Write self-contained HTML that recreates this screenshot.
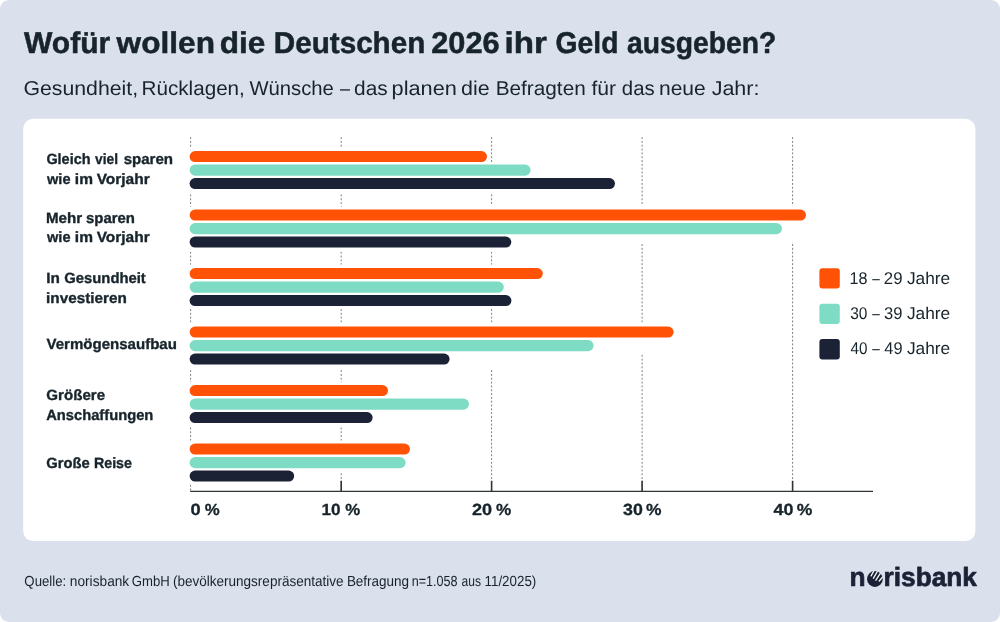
<!DOCTYPE html>
<html lang="de"><head><meta charset="utf-8"><title>Wofür wollen die Deutschen 2026 ihr Geld ausgeben?</title>
<style>html,body{margin:0;padding:0;background:#fff;}body{width:1000px;height:622px;overflow:hidden;}svg{display:block;will-change:transform;}text{font-family:"Liberation Sans",sans-serif;text-rendering:geometricPrecision;}</style>
</head><body>
<svg width="1000" height="622" viewBox="0 0 1000 622">
<rect x="0" y="0" width="1000" height="622" rx="9" ry="9" fill="#dae0ec"/>
<rect x="23.2" y="118.7" width="952.2" height="422.4" rx="10" ry="10" fill="#ffffff"/>
<text x="23.97" y="52.55" font-size="30.0" font-weight="bold" fill="#17242b" stroke="#17242b" stroke-width="0.5" stroke-linejoin="round" textLength="86.23" lengthAdjust="spacingAndGlyphs">Wofür</text>
<text x="116.59" y="52.55" font-size="30.0" font-weight="bold" fill="#17242b" stroke="#17242b" stroke-width="0.5" stroke-linejoin="round" textLength="98.37" lengthAdjust="spacingAndGlyphs">wollen</text>
<text x="219.70" y="52.55" font-size="30.0" font-weight="bold" fill="#17242b" stroke="#17242b" stroke-width="0.5" stroke-linejoin="round" textLength="45.62" lengthAdjust="spacingAndGlyphs">die</text>
<text x="273.77" y="52.55" font-size="30.0" font-weight="bold" fill="#17242b" stroke="#17242b" stroke-width="0.5" stroke-linejoin="round" textLength="151.57" lengthAdjust="spacingAndGlyphs">Deutschen</text>
<text x="431.18" y="52.55" font-size="30.0" font-weight="bold" fill="#17242b" stroke="#17242b" stroke-width="0.5" stroke-linejoin="round" textLength="68.43" lengthAdjust="spacingAndGlyphs">2026</text>
<text x="504.54" y="52.55" font-size="30.0" font-weight="bold" fill="#17242b" stroke="#17242b" stroke-width="0.5" stroke-linejoin="round" textLength="42.31" lengthAdjust="spacingAndGlyphs">ihr</text>
<text x="555.59" y="52.55" font-size="30.0" font-weight="bold" fill="#17242b" stroke="#17242b" stroke-width="0.5" stroke-linejoin="round" textLength="62.82" lengthAdjust="spacingAndGlyphs">Geld</text>
<text x="626.92" y="52.55" font-size="30.0" font-weight="bold" fill="#17242b" stroke="#17242b" stroke-width="0.5" stroke-linejoin="round" textLength="149.36" lengthAdjust="spacingAndGlyphs">ausgeben?</text>
<text x="23.43" y="95.0" font-size="20.0" font-weight="normal" fill="#17242b" textLength="114.73" lengthAdjust="spacingAndGlyphs">Gesundheit,</text>
<text x="141.56" y="95.0" font-size="20.0" font-weight="normal" fill="#17242b" textLength="103.30" lengthAdjust="spacingAndGlyphs">Rücklagen,</text>
<text x="249.41" y="95.0" font-size="20.0" font-weight="normal" fill="#17242b" textLength="84.49" lengthAdjust="spacingAndGlyphs">Wünsche</text>
<text x="340.00" y="95.0" font-size="20.0" font-weight="normal" fill="#17242b" textLength="10.01" lengthAdjust="spacingAndGlyphs">–</text>
<text x="354.12" y="95.0" font-size="20.0" font-weight="normal" fill="#17242b" textLength="33.63" lengthAdjust="spacingAndGlyphs">das</text>
<text x="391.60" y="95.0" font-size="20.0" font-weight="normal" fill="#17242b" textLength="65.31" lengthAdjust="spacingAndGlyphs">planen</text>
<text x="461.10" y="95.0" font-size="20.0" font-weight="normal" fill="#17242b" textLength="28.60" lengthAdjust="spacingAndGlyphs">die</text>
<text x="495.70" y="95.0" font-size="20.0" font-weight="normal" fill="#17242b" textLength="90.05" lengthAdjust="spacingAndGlyphs">Befragten</text>
<text x="591.40" y="95.0" font-size="20.0" font-weight="normal" fill="#17242b" textLength="24.65" lengthAdjust="spacingAndGlyphs">für</text>
<text x="621.84" y="95.0" font-size="20.0" font-weight="normal" fill="#17242b" textLength="32.89" lengthAdjust="spacingAndGlyphs">das</text>
<text x="659.01" y="95.0" font-size="20.0" font-weight="normal" fill="#17242b" textLength="46.73" lengthAdjust="spacingAndGlyphs">neue</text>
<text x="711.66" y="95.0" font-size="20.0" font-weight="normal" fill="#17242b" textLength="47.80" lengthAdjust="spacingAndGlyphs">Jahr:</text>
<line x1="190.6" y1="137.1" x2="190.6" y2="491.2" stroke="#7c8087" stroke-width="1" stroke-dasharray="2 1.82"/>
<rect x="188.6" y="147.0" width="4" height="46.2" fill="#ffffff"/>
<rect x="188.6" y="206.6" width="4" height="45.1" fill="#ffffff"/>
<rect x="188.6" y="264.6" width="4" height="44.0" fill="#ffffff"/>
<rect x="188.6" y="322.6" width="4" height="46.6" fill="#ffffff"/>
<rect x="188.6" y="382.2" width="4" height="44.4" fill="#ffffff"/>
<rect x="188.6" y="440.6" width="4" height="43.9" fill="#ffffff"/>
<line x1="341.2" y1="137.1" x2="341.2" y2="491.2" stroke="#7c8087" stroke-width="1" stroke-dasharray="2 1.82"/>
<rect x="339.2" y="147.0" width="4" height="46.2" fill="#ffffff"/>
<rect x="339.2" y="206.6" width="4" height="45.1" fill="#ffffff"/>
<rect x="339.2" y="264.6" width="4" height="44.0" fill="#ffffff"/>
<rect x="339.2" y="322.6" width="4" height="46.6" fill="#ffffff"/>
<rect x="339.2" y="382.2" width="4" height="44.4" fill="#ffffff"/>
<rect x="339.2" y="440.6" width="4" height="32.4" fill="#ffffff"/>
<line x1="491.6" y1="137.1" x2="491.6" y2="491.2" stroke="#7c8087" stroke-width="1" stroke-dasharray="2 1.82"/>
<rect x="489.6" y="162.2" width="4" height="31.0" fill="#ffffff"/>
<rect x="489.6" y="204.4" width="4" height="47.3" fill="#ffffff"/>
<rect x="489.6" y="264.6" width="4" height="44.0" fill="#ffffff"/>
<rect x="489.6" y="322.6" width="4" height="46.6" fill="#ffffff"/>
<line x1="642.1" y1="137.1" x2="642.1" y2="491.2" stroke="#7c8087" stroke-width="1" stroke-dasharray="2 1.82"/>
<rect x="640.1" y="204.4" width="4" height="39.2" fill="#ffffff"/>
<rect x="640.1" y="322.6" width="4" height="31.0" fill="#ffffff"/>
<line x1="792.6" y1="137.1" x2="792.6" y2="491.2" stroke="#7c8087" stroke-width="1" stroke-dasharray="2 1.82"/>
<rect x="790.6" y="206.0" width="4" height="36.0" fill="#ffffff"/>
<rect x="189.6" y="151.00" width="297.4" height="11.1" rx="5.55" fill="#ff5207"/>
<rect x="189.6" y="164.55" width="341.0" height="11.1" rx="5.55" fill="#7edcc4"/>
<rect x="189.6" y="178.00" width="425.4" height="11.1" rx="5.55" fill="#1c2236"/>
<rect x="189.6" y="209.50" width="616.4" height="11.1" rx="5.55" fill="#ff5207"/>
<rect x="189.6" y="223.05" width="592.4" height="11.1" rx="5.55" fill="#7edcc4"/>
<rect x="189.6" y="236.50" width="321.7" height="11.1" rx="5.55" fill="#1c2236"/>
<rect x="189.6" y="268.00" width="353.2" height="11.1" rx="5.55" fill="#ff5207"/>
<rect x="189.6" y="281.55" width="314.2" height="11.1" rx="5.55" fill="#7edcc4"/>
<rect x="189.6" y="295.00" width="321.8" height="11.1" rx="5.55" fill="#1c2236"/>
<rect x="189.6" y="326.50" width="484.0" height="11.1" rx="5.55" fill="#ff5207"/>
<rect x="189.6" y="340.05" width="404.0" height="11.1" rx="5.55" fill="#7edcc4"/>
<rect x="189.6" y="353.50" width="260.0" height="11.1" rx="5.55" fill="#1c2236"/>
<rect x="189.6" y="385.00" width="198.4" height="11.1" rx="5.55" fill="#ff5207"/>
<rect x="189.6" y="398.55" width="279.4" height="11.1" rx="5.55" fill="#7edcc4"/>
<rect x="189.6" y="412.00" width="183.0" height="11.1" rx="5.55" fill="#1c2236"/>
<rect x="189.6" y="443.50" width="220.4" height="11.1" rx="5.55" fill="#ff5207"/>
<rect x="189.6" y="457.05" width="216.0" height="11.1" rx="5.55" fill="#7edcc4"/>
<rect x="189.6" y="470.50" width="104.6" height="11.1" rx="5.55" fill="#1c2236"/>
<line x1="190.2" y1="491.4" x2="873" y2="491.4" stroke="#2e3536" stroke-width="1.1"/>
<line x1="341.2" y1="480.8" x2="341.2" y2="491.4" stroke="#2e3536" stroke-width="1.6"/>
<line x1="491.6" y1="480.8" x2="491.6" y2="491.4" stroke="#2e3536" stroke-width="1.6"/>
<line x1="642.1" y1="480.8" x2="642.1" y2="491.4" stroke="#2e3536" stroke-width="1.6"/>
<line x1="792.6" y1="480.8" x2="792.6" y2="491.4" stroke="#2e3536" stroke-width="1.6"/>
<text x="190.43" y="514.9" font-size="16.1" font-weight="bold" fill="#17242b" stroke="#17242b" stroke-width="0.3" stroke-linejoin="round" textLength="10.17" lengthAdjust="spacingAndGlyphs">0</text>
<text x="204.73" y="514.9" font-size="16.1" font-weight="bold" fill="#17242b" stroke="#17242b" stroke-width="0.3" stroke-linejoin="round" textLength="14.96" lengthAdjust="spacingAndGlyphs">%</text>
<text x="321.47" y="514.9" font-size="16.1" font-weight="bold" fill="#17242b" stroke="#17242b" stroke-width="0.3" stroke-linejoin="round" textLength="19.08" lengthAdjust="spacingAndGlyphs">10</text>
<text x="345.33" y="514.9" font-size="16.1" font-weight="bold" fill="#17242b" stroke="#17242b" stroke-width="0.3" stroke-linejoin="round" textLength="14.96" lengthAdjust="spacingAndGlyphs">%</text>
<text x="472.02" y="514.9" font-size="16.1" font-weight="bold" fill="#17242b" stroke="#17242b" stroke-width="0.3" stroke-linejoin="round" textLength="20.07" lengthAdjust="spacingAndGlyphs">20</text>
<text x="496.02" y="514.9" font-size="16.1" font-weight="bold" fill="#17242b" stroke="#17242b" stroke-width="0.3" stroke-linejoin="round" textLength="15.28" lengthAdjust="spacingAndGlyphs">%</text>
<text x="623.04" y="514.9" font-size="16.1" font-weight="bold" fill="#17242b" stroke="#17242b" stroke-width="0.3" stroke-linejoin="round" textLength="19.73" lengthAdjust="spacingAndGlyphs">30</text>
<text x="646.12" y="514.9" font-size="16.1" font-weight="bold" fill="#17242b" stroke="#17242b" stroke-width="0.3" stroke-linejoin="round" textLength="15.49" lengthAdjust="spacingAndGlyphs">%</text>
<text x="773.48" y="514.9" font-size="16.1" font-weight="bold" fill="#17242b" stroke="#17242b" stroke-width="0.3" stroke-linejoin="round" textLength="19.85" lengthAdjust="spacingAndGlyphs">40</text>
<text x="796.81" y="514.9" font-size="16.1" font-weight="bold" fill="#17242b" stroke="#17242b" stroke-width="0.3" stroke-linejoin="round" textLength="15.60" lengthAdjust="spacingAndGlyphs">%</text>
<text x="46.38" y="164.1" font-size="14.8" font-weight="bold" fill="#17242b" stroke="#17242b" stroke-width="0.35" stroke-linejoin="round" textLength="44.14" lengthAdjust="spacingAndGlyphs">Gleich</text>
<text x="95.12" y="164.1" font-size="14.8" font-weight="bold" fill="#17242b" stroke="#17242b" stroke-width="0.35" stroke-linejoin="round" textLength="22.98" lengthAdjust="spacingAndGlyphs">viel</text>
<text x="123.65" y="164.1" font-size="14.8" font-weight="bold" fill="#17242b" stroke="#17242b" stroke-width="0.35" stroke-linejoin="round" textLength="49.41" lengthAdjust="spacingAndGlyphs">sparen</text>
<text x="47.02" y="184.0" font-size="14.8" font-weight="bold" fill="#17242b" stroke="#17242b" stroke-width="0.35" stroke-linejoin="round" textLength="23.51" lengthAdjust="spacingAndGlyphs">wie</text>
<text x="74.89" y="184.0" font-size="14.8" font-weight="bold" fill="#17242b" stroke="#17242b" stroke-width="0.35" stroke-linejoin="round" textLength="18.09" lengthAdjust="spacingAndGlyphs">im</text>
<text x="96.67" y="184.0" font-size="14.8" font-weight="bold" fill="#17242b" stroke="#17242b" stroke-width="0.35" stroke-linejoin="round" textLength="53.08" lengthAdjust="spacingAndGlyphs">Vorjahr</text>
<text x="45.96" y="222.6" font-size="14.8" font-weight="bold" fill="#17242b" stroke="#17242b" stroke-width="0.35" stroke-linejoin="round" textLength="36.19" lengthAdjust="spacingAndGlyphs">Mehr</text>
<text x="86.05" y="222.6" font-size="14.8" font-weight="bold" fill="#17242b" stroke="#17242b" stroke-width="0.35" stroke-linejoin="round" textLength="48.90" lengthAdjust="spacingAndGlyphs">sparen</text>
<text x="47.02" y="242.2" font-size="14.8" font-weight="bold" fill="#17242b" stroke="#17242b" stroke-width="0.35" stroke-linejoin="round" textLength="23.51" lengthAdjust="spacingAndGlyphs">wie</text>
<text x="74.89" y="242.2" font-size="14.8" font-weight="bold" fill="#17242b" stroke="#17242b" stroke-width="0.35" stroke-linejoin="round" textLength="18.09" lengthAdjust="spacingAndGlyphs">im</text>
<text x="96.67" y="242.2" font-size="14.8" font-weight="bold" fill="#17242b" stroke="#17242b" stroke-width="0.35" stroke-linejoin="round" textLength="53.08" lengthAdjust="spacingAndGlyphs">Vorjahr</text>
<text x="46.15" y="283.4" font-size="14.8" font-weight="bold" fill="#17242b" stroke="#17242b" stroke-width="0.35" stroke-linejoin="round" textLength="13.63" lengthAdjust="spacingAndGlyphs">In</text>
<text x="64.27" y="283.4" font-size="14.8" font-weight="bold" fill="#17242b" stroke="#17242b" stroke-width="0.35" stroke-linejoin="round" textLength="81.54" lengthAdjust="spacingAndGlyphs">Gesundheit</text>
<text x="46.11" y="302.8" font-size="14.8" font-weight="bold" fill="#17242b" stroke="#17242b" stroke-width="0.35" stroke-linejoin="round" textLength="80.66" lengthAdjust="spacingAndGlyphs">investieren</text>
<text x="46.47" y="349.0" font-size="14.8" font-weight="bold" fill="#17242b" stroke="#17242b" stroke-width="0.35" stroke-linejoin="round" textLength="130.44" lengthAdjust="spacingAndGlyphs">Vermögensaufbau</text>
<text x="46.36" y="399.9" font-size="14.8" font-weight="bold" fill="#17242b" stroke="#17242b" stroke-width="0.35" stroke-linejoin="round" textLength="58.68" lengthAdjust="spacingAndGlyphs">Größere</text>
<text x="46.21" y="419.6" font-size="14.8" font-weight="bold" fill="#17242b" stroke="#17242b" stroke-width="0.35" stroke-linejoin="round" textLength="107.13" lengthAdjust="spacingAndGlyphs">Anschaffungen</text>
<text x="46.37" y="467.5" font-size="14.8" font-weight="bold" fill="#17242b" stroke="#17242b" stroke-width="0.35" stroke-linejoin="round" textLength="43.46" lengthAdjust="spacingAndGlyphs">Große</text>
<text x="93.92" y="467.5" font-size="14.8" font-weight="bold" fill="#17242b" stroke="#17242b" stroke-width="0.35" stroke-linejoin="round" textLength="38.09" lengthAdjust="spacingAndGlyphs">Reise</text>
<rect x="819.4" y="268.3" width="20.4" height="20.3" rx="3" fill="#ff5207"/>
<rect x="819.4" y="303.7" width="20.4" height="20.3" rx="3" fill="#7edcc4"/>
<rect x="819.4" y="339.1" width="20.4" height="20.3" rx="3" fill="#1c2236"/>
<text x="849.57" y="283.5" font-size="17.0" font-weight="normal" fill="#17242b" textLength="17.93" lengthAdjust="spacingAndGlyphs">18</text>
<text x="872.20" y="283.5" font-size="17.0" font-weight="normal" fill="#17242b" textLength="7.51" lengthAdjust="spacingAndGlyphs">–</text>
<text x="883.86" y="283.5" font-size="17.0" font-weight="normal" fill="#17242b" textLength="18.64" lengthAdjust="spacingAndGlyphs">29</text>
<text x="906.93" y="283.5" font-size="17.0" font-weight="normal" fill="#17242b" textLength="43.34" lengthAdjust="spacingAndGlyphs">Jahre</text>
<text x="850.21" y="318.9" font-size="17.0" font-weight="normal" fill="#17242b" textLength="17.19" lengthAdjust="spacingAndGlyphs">30</text>
<text x="872.20" y="318.9" font-size="17.0" font-weight="normal" fill="#17242b" textLength="7.51" lengthAdjust="spacingAndGlyphs">–</text>
<text x="884.07" y="318.9" font-size="17.0" font-weight="normal" fill="#17242b" textLength="18.41" lengthAdjust="spacingAndGlyphs">39</text>
<text x="906.93" y="318.9" font-size="17.0" font-weight="normal" fill="#17242b" textLength="43.34" lengthAdjust="spacingAndGlyphs">Jahre</text>
<text x="850.45" y="354.3" font-size="17.0" font-weight="normal" fill="#17242b" textLength="16.94" lengthAdjust="spacingAndGlyphs">40</text>
<text x="872.20" y="354.3" font-size="17.0" font-weight="normal" fill="#17242b" textLength="7.51" lengthAdjust="spacingAndGlyphs">–</text>
<text x="884.33" y="354.3" font-size="17.0" font-weight="normal" fill="#17242b" textLength="18.15" lengthAdjust="spacingAndGlyphs">49</text>
<text x="906.93" y="354.3" font-size="17.0" font-weight="normal" fill="#17242b" textLength="43.34" lengthAdjust="spacingAndGlyphs">Jahre</text>
<text x="24.37" y="586.1" font-size="14.6" font-weight="normal" fill="#17242b" textLength="41.83" lengthAdjust="spacingAndGlyphs">Quelle:</text>
<text x="69.84" y="586.1" font-size="14.6" font-weight="normal" fill="#17242b" textLength="59.39" lengthAdjust="spacingAndGlyphs">norisbank</text>
<text x="131.84" y="586.1" font-size="14.6" font-weight="normal" fill="#17242b" textLength="37.98" lengthAdjust="spacingAndGlyphs">GmbH</text>
<text x="172.91" y="586.1" font-size="14.6" font-weight="normal" fill="#17242b" textLength="170.69" lengthAdjust="spacingAndGlyphs">(bevölkerungsrepräsentative</text>
<text x="346.89" y="586.1" font-size="14.6" font-weight="normal" fill="#17242b" textLength="62.23" lengthAdjust="spacingAndGlyphs">Befragung</text>
<text x="411.66" y="586.1" font-size="14.6" font-weight="normal" fill="#17242b" textLength="45.88" lengthAdjust="spacingAndGlyphs">n=1.058</text>
<text x="461.49" y="586.1" font-size="14.6" font-weight="normal" fill="#17242b" textLength="19.45" lengthAdjust="spacingAndGlyphs">aus</text>
<text x="484.50" y="586.1" font-size="14.6" font-weight="normal" fill="#17242b" textLength="51.81" lengthAdjust="spacingAndGlyphs">11/2025)</text>
<text x="849.42" y="585.6" font-size="26.4" font-weight="bold" fill="#1c2236" stroke="#1c2236" stroke-width="0.7" stroke-linejoin="round" textLength="16.06" lengthAdjust="spacingAndGlyphs">n</text>
<text x="883.62" y="585.6" font-size="26.4" font-weight="bold" fill="#1c2236" stroke="#1c2236" stroke-width="0.7" stroke-linejoin="round" textLength="93.30" lengthAdjust="spacingAndGlyphs">risbank</text>
<circle cx="874.9" cy="579.0" r="7.9" fill="#1c2236"/>
<clipPath id="oc"><circle cx="874.9" cy="579.0" r="8.3"/></clipPath>
<g stroke="#f3f5fa" stroke-width="1.35" stroke-linecap="round" clip-path="url(#oc)">
<line x1="871.1" y1="575.9" x2="874.4" y2="569.9"/>
<line x1="873.5" y1="578.2" x2="878.4" y2="569.6"/>
<line x1="875.9" y1="580.2" x2="881.6" y2="571.4"/>
<line x1="879.2" y1="581.0" x2="884.0" y2="575.4"/>
</g>
</svg>
</body></html>
